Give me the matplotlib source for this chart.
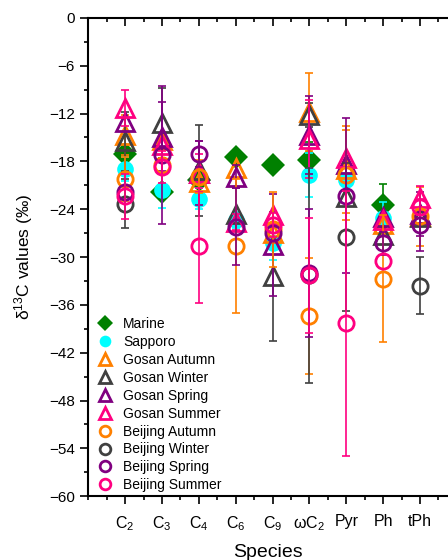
import numpy as np
import matplotlib
matplotlib.use("Agg")
import matplotlib.pyplot as plt
from matplotlib.ticker import MultipleLocator

plt.rcParams["font.family"] = ["Liberation Sans", "DejaVu Sans"]
plt.rcParams["mathtext.default"] = "regular"

nan = np.nan

# species on the x axis
species = ["C$_2$", "C$_3$", "C$_4$", "C$_6$", "C$_9$", "ωC$_2$", "Pyr", "Ph", "tPh"]

# delta13C values (per mil) and their error bars
marine = [-17.1, -21.8, -20.3, -17.5, -18.5, -17.8, nan, -23.5, nan]
marine_err = [nan, nan, nan, nan, nan, 2.2, nan, 2.7, nan]

sapporo = [-18.9, -21.6, -22.7, -25.4, -28.3, -19.7, -20.3, -25.1, nan]
sapporo_err = [1.5, 2.2, 1.3, 1.0, 2.1, 2.8, nan, 2.0, nan]

gosan_autumn = [-14.7, -15.3, -20.6, -18.8, -27.0, -11.8, -19.0, -25.8, -24.9]
gosan_autumn_err = [2.5, nan, nan, nan, nan, 4.9, 5.5, nan, 3.7]

gosan_winter = [-15.5, -13.2, -19.1, -24.6, -32.4, -12.2, -22.5, -27.2, -25.0]
gosan_winter_err = [3.7, 4.4, 5.7, nan, 8.1, 1.5, nan, nan, nan]

gosan_spring = [-13.0, -14.9, -19.5, -19.9, -28.5, -14.7, -18.3, -25.0, -24.6]
gosan_spring_err = [nan, 4.3, 4.0, 1.5, 6.4, 4.9, nan, nan, 2.8]

gosan_summer = [-11.3, -16.0, -19.5, -25.6, -24.7, -15.2, -17.6, -25.4, -22.6]
gosan_summer_err = [2.3, nan, 2.4, 1.0, nan, 4.9, nan, nan, 1.5]

beijing_autumn = [-20.2, -18.5, -19.9, -28.6, -26.5, -37.4, -19.7, -32.7, -24.9]
beijing_autumn_err = [2.8, nan, 2.1, 8.4, 4.7, 7.3, 5.6, 8.0, nan]

beijing_winter = [-23.3, nan, nan, nan, nan, -32.3, -27.5, nan, -33.6]
beijing_winter_err = [3.1, nan, nan, nan, nan, 13.5, 9.3, nan, 3.6]

beijing_spring = [-21.8, -17.2, -17.1, -26.2, -27.0, -32.0, -22.3, -28.3, -26.0]
beijing_spring_err = [nan, 8.7, 1.6, 4.8, nan, 8.0, 9.7, 1.5, 3.2]

beijing_summer = [-22.4, -18.7, -28.6, nan, -26.0, -32.3, -38.3, -30.5, -23.7]
beijing_summer_err = [2.8, 2.0, 7.2, nan, 1.5, 7.2, 16.6, nan, 1.0]

ORANGE = "#FF8000"
GREY = "#404040"
PURPLE = "#800080"
PINK = "#FF0080"

# (label, values, errors, marker, colour, filled)
series = [
    ("Marine", marine, marine_err, "D", "#008000", True),
    ("Sapporo", sapporo, sapporo_err, "o", "#00FFFF", True),
    ("Gosan Autumn", gosan_autumn, gosan_autumn_err, "^", ORANGE, False),
    ("Gosan Winter", gosan_winter, gosan_winter_err, "^", GREY, False),
    ("Gosan Spring", gosan_spring, gosan_spring_err, "^", PURPLE, False),
    ("Gosan Summer", gosan_summer, gosan_summer_err, "^", PINK, False),
    ("Beijing Autumn", beijing_autumn, beijing_autumn_err, "o", ORANGE, False),
    ("Beijing Winter", beijing_winter, beijing_winter_err, "o", GREY, False),
    ("Beijing Spring", beijing_spring, beijing_spring_err, "o", PURPLE, False),
    ("Beijing Summer", beijing_summer, beijing_summer_err, "o", PINK, False),
]

fig = plt.figure(figsize=(4.48, 5.6), dpi=100)
ax = fig.add_axes([0.197, 0.114, 0.803, 0.854])

x = np.arange(1, len(species) + 1)
handles = []
for label, vals, errs, marker, color, filled in series:
    vals = np.array(vals, dtype=float)
    errs = np.array(errs, dtype=float)
    ax.errorbar(x, vals, yerr=errs, fmt="none", ecolor=color,
                elinewidth=1.2, capsize=3, capthick=1.2)
    if filled:
        h, = ax.plot(x, vals, linestyle="none", marker=marker, markersize=12,
                     color=color, markeredgewidth=0, label=label)
    else:
        size = 12.5 if marker == "^" else 11
        h, = ax.plot(x, vals, linestyle="none", marker=marker, markersize=size,
                     markerfacecolor="none", markeredgecolor=color,
                     markeredgewidth=2, label=label)
    handles.append(h)

ax.set_xlim(0, 9.76)
ax.set_ylim(-60, 0)
ax.set_xticks(x)
ax.set_xticklabels(species, fontsize=11.5)
ax.xaxis.set_minor_locator(MultipleLocator(0.5))
ax.yaxis.set_major_locator(MultipleLocator(6))
ax.yaxis.set_minor_locator(MultipleLocator(3))
ax.tick_params(axis="y", labelsize=11)
ax.tick_params(axis="x", pad=7)
ax.tick_params(axis="both", which="major", direction="out", length=6, width=1.2)
ax.tick_params(axis="both", which="minor", direction="out", length=3, width=1.2)
ax.tick_params(axis="x", which="both", top=True)
ax.spines["right"].set_visible(False)
for s in ["left", "bottom", "top"]:
    ax.spines[s].set_linewidth(1.5)

# ticks on the top spine point inward
for t in ax.xaxis.get_major_ticks() + ax.xaxis.get_minor_ticks():
    t.tick2line.set_marker(3)

ax.set_xlabel("Species", fontsize=14, labelpad=8)
ax.set_ylabel("δ$^{13}$C values (‰)", fontsize=12.5, labelpad=10)

ax.legend(handles=handles, loc="lower left", bbox_to_anchor=(0.0, -0.012),
          frameon=False, fontsize=10, handlelength=1.0, handletextpad=0.8,
          labelspacing=0.28, borderaxespad=0.3, markerscale=0.7)

fig.savefig("out.png", dpi=100)
